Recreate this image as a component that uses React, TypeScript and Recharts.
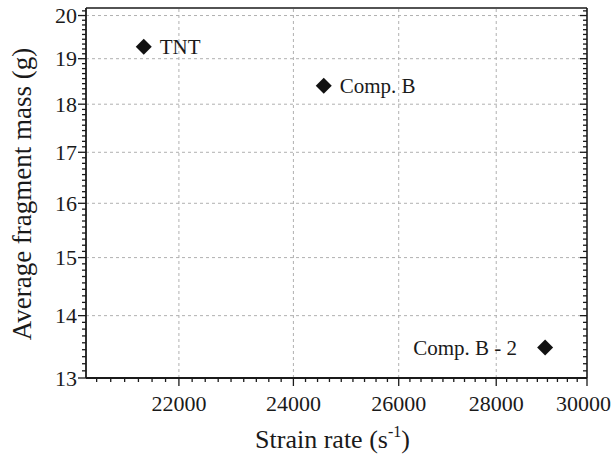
import { ScatterChart, Scatter, XAxis, YAxis, ReferenceLine } from "recharts";

const explosives = ["TNT", "Comp. B", "Comp. B - 2"];
const strainRate = [21420, 24560, 29060];
const fragmentMass = [19.27, 18.4, 13.48];

const xMajorTicks = [22000, 24000, 26000, 28000, 30000];
const yMajorTicks = [13, 14, 15, 16, 17, 18, 19, 20];
const xGridLines = [22000, 24000, 26000, 28000];
const yGridLines = [14, 15, 16, 17, 18, 19, 20];

const xDomain = [20500, 30000];
const yDomain = [13, 20.18];

const FONT = '"Liberation Serif", "Times New Roman", serif';
const INK = "#1a1a1a";

// 8 minor ticks between majors, like the original plot
function withMinors(majors: number[], domain: number[]) {
  const step = majors[1] - majors[0];
  const ext = [majors[0] - step, ...majors, majors[majors.length - 1] + step];
  const out: number[] = majors.filter((v) => v >= domain[0] && v <= domain[1]);
  for (let i = 0; i < ext.length - 1; i++) {
    for (let k = 1; k < 9; k++) {
      const v = ext[i] + ((ext[i + 1] - ext[i]) * k) / 9;
      if (v > domain[0] && v < domain[1]) out.push(v);
    }
  }
  return out.sort((a, b) => a - b);
}

const xTicks = withMinors(xMajorTicks, xDomain);
const yTicks = withMinors(yMajorTicks, yDomain);

const data = strainRate.map((x, i) => ({
  x,
  y: fragmentMass[i],
  name: explosives[i],
}));

const BottomTick = (props: any) => {
  const { x, y, payload } = props;
  const major = xMajorTicks.includes(payload.value);
  const last = payload.value === xMajorTicks[xMajorTicks.length - 1];
  return (
    <g>
      <line x1={x} y1={y} x2={x} y2={y + (major ? 8 : 4)} stroke={INK} strokeWidth={1.3} />
      {major && (
        <text
          x={last ? 611 : x}
          y={y + 33}
          textAnchor={last ? "end" : "middle"}
          fontSize={22}
          fill={INK}
          fontFamily={FONT}
        >
          {payload.value}
        </text>
      )}
    </g>
  );
};

const TopTick = (props: any) => {
  const { x, y, payload } = props;
  const major = xMajorTicks.includes(payload.value);
  return <line x1={x} y1={y} x2={x} y2={y + (major ? 7 : 4)} stroke={INK} strokeWidth={1.3} />;
};

const LeftTick = (props: any) => {
  const { x, y, payload } = props;
  const major = yMajorTicks.includes(payload.value);
  return (
    <g>
      <line x1={x} y1={y} x2={x - (major ? 8 : 4)} y2={y} stroke={INK} strokeWidth={1.3} />
      {major && (
        <text x={x - 9} y={y} dy="0.35em" textAnchor="end" fontSize={22} fill={INK} fontFamily={FONT}>
          {payload.value}
        </text>
      )}
    </g>
  );
};

const RightTick = (props: any) => {
  const { x, y, payload } = props;
  const major = yMajorTicks.includes(payload.value);
  return <line x1={x} y1={y} x2={x - (major ? 7 : 4)} y2={y} stroke={INK} strokeWidth={1.3} />;
};

const YTitle = () => {
  const cx = 22;
  const cy = 194;
  return (
    <text
      x={cx}
      y={cy}
      transform={`rotate(-90 ${cx} ${cy})`}
      textAnchor="middle"
      dominantBaseline="central"
      fontSize={27}
      fill={INK}
      fontFamily={FONT}
    >
      Average fragment mass (g)
    </text>
  );
};

const XTitle = (props: any) => {
  const { viewBox } = props;
  const cx = viewBox.x + viewBox.width / 2 - 4;
  return (
    <text x={cx} y={viewBox.y + 70} textAnchor="middle" fontSize={26} fill={INK} fontFamily={FONT}>
      Strain rate (s
      <tspan fontSize={16} dy={-11}>-1</tspan>
      <tspan dy={11}>)</tspan>
    </text>
  );
};

const Diamond = (props: any) => {
  const { cx, cy, payload } = props;
  const r = 8;
  const left = payload.name === "Comp. B - 2";
  return (
    <g>
      <path d={`M${cx},${cy - r}L${cx + r},${cy}L${cx},${cy + r}L${cx - r},${cy}Z`} fill="#111" />
      <text
        x={left ? cx - 28 : cx + 16}
        y={cy}
        dy="0.35em"
        textAnchor={left ? "end" : "start"}
        fontSize={21}
        fill={INK}
        fontFamily={FONT}
      >
        {payload.name}
      </text>
    </g>
  );
};

export default function App() {
  return (
    <div style={{ position: "absolute", left: 0, top: 0, background: "#fff" }}>
      <ScatterChart width={612} height={455} margin={{ top: 7, right: 24, bottom: 0, left: 0 }}>
        <XAxis
          xAxisId="b"
          dataKey="x"
          type="number"
          scale="log"
          domain={xDomain}
          allowDataOverflow
          ticks={xTicks}
          interval={0}
          tickSize={0}
          tickMargin={0}
          tick={<BottomTick />}
          height={77}
          axisLine={{ stroke: INK, strokeWidth: 1.8 }}
          label={<XTitle />}
        />
        <XAxis
          xAxisId="t"
          orientation="top"
          type="number"
          scale="log"
          domain={xDomain}
          allowDataOverflow
          ticks={xTicks}
          interval={0}
          tickSize={0}
          tickMargin={0}
          tick={<TopTick />}
          height={1}
          axisLine={{ stroke: INK, strokeWidth: 1.6 }}
        />
        <YAxis
          yAxisId="l"
          dataKey="y"
          type="number"
          scale="log"
          domain={yDomain}
          allowDataOverflow
          ticks={yTicks}
          interval={0}
          tickSize={0}
          tickMargin={0}
          tick={<LeftTick />}
          width={86}
          axisLine={{ stroke: INK, strokeWidth: 1.8 }}
          label={<YTitle />}
        />
        <YAxis
          yAxisId="r"
          orientation="right"
          type="number"
          scale="log"
          domain={yDomain}
          allowDataOverflow
          ticks={yTicks}
          interval={0}
          tickSize={0}
          tickMargin={0}
          tick={<RightTick />}
          width={1}
          axisLine={{ stroke: INK, strokeWidth: 1.6 }}
        />
        {xGridLines.map((v) => (
          <ReferenceLine key={"x" + v} x={v} xAxisId="b" yAxisId="l" stroke="#b0b0b0" strokeDasharray="3 3" />
        ))}
        {yGridLines.map((v) => (
          <ReferenceLine key={"y" + v} y={v} xAxisId="b" yAxisId="l" stroke="#b0b0b0" strokeDasharray="3 3" />
        ))}
        <Scatter data={data} xAxisId="b" yAxisId="l" shape={<Diamond />} isAnimationActive={false} />
      </ScatterChart>
    </div>
  );
}
